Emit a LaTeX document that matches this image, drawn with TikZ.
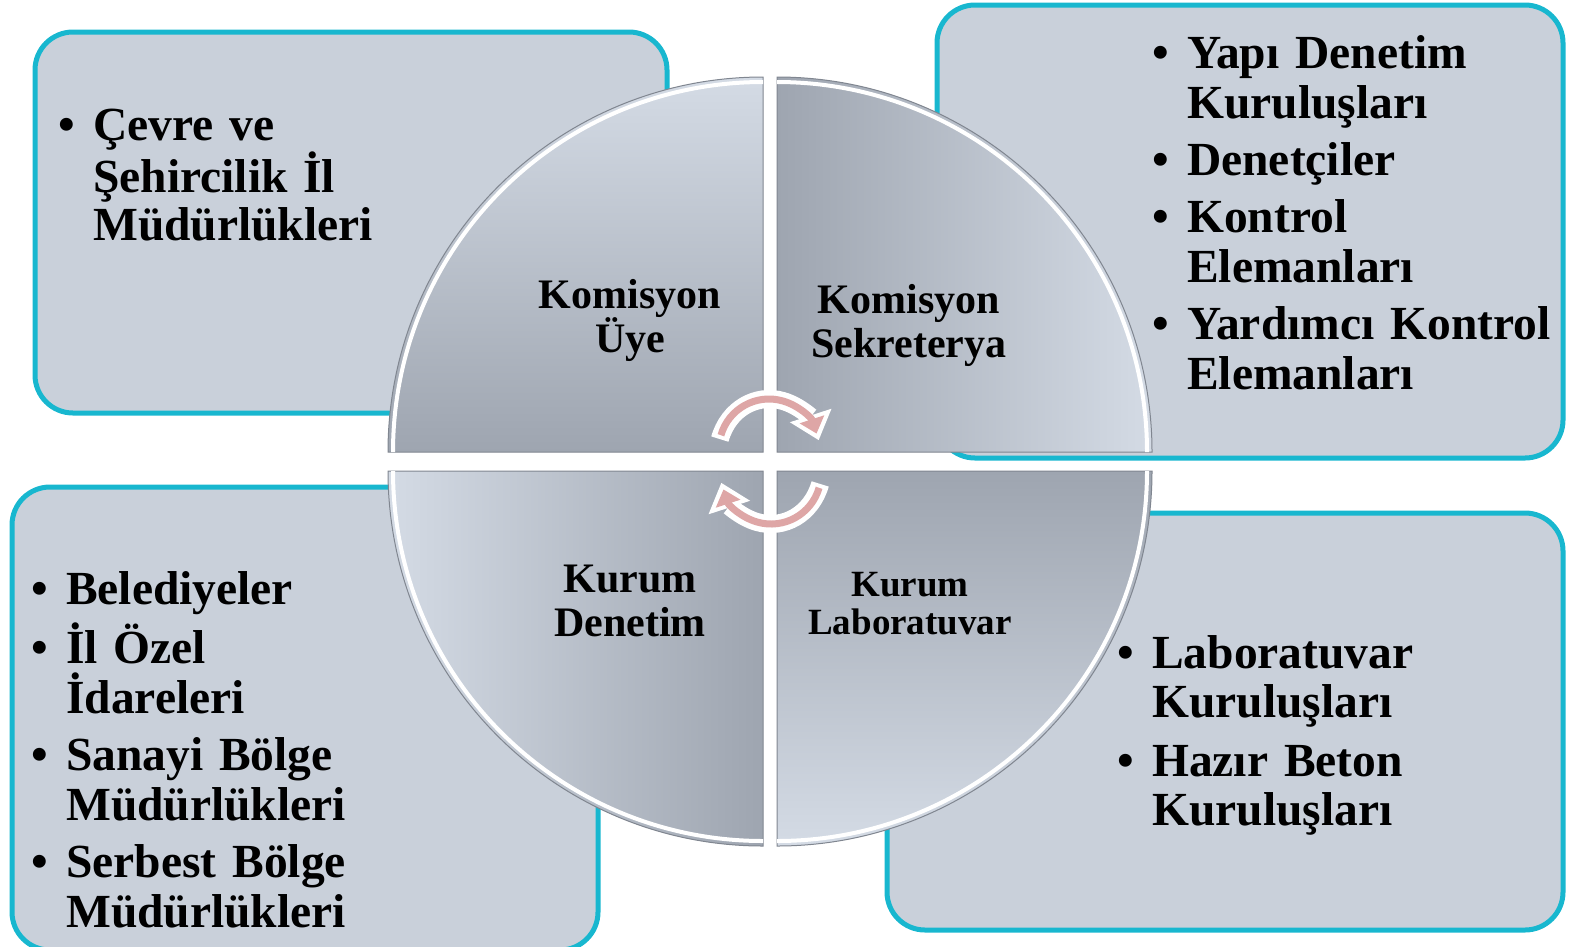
\documentclass[tikz,border=0pt]{standalone}
\usepackage{fontspec}
\setmainfont{Liberation Serif}
\usetikzlibrary{arrows.meta}
\setlength{\parindent}{0pt}
\setlength{\lineskiplimit}{-60pt}

\definecolor{boxcyan}{RGB}{24,183,207}
\definecolor{boxfill}{RGB}{201,208,218}
\definecolor{quadlight}{RGB}{212,219,229}
\definecolor{quaddark}{RGB}{158,165,176}
\definecolor{quadline}{RGB}{128,134,144}
\definecolor{turnpink}{RGB}{222,166,166}

\newcommand{\bul}{\makebox[35pt][l]{\textbullet}}
\newcommand{\ind}{\hspace*{35pt}}

\tikzset{
	listbox/.style={draw=boxcyan, line width=5, fill=boxfill, rounded corners=38},
	listtext/.style={inner sep=0, anchor=north west, align=left, text width=480,
		font=\bfseries\fontsize{47.5}{50}\selectfont},
	quadlabel/.style={inner sep=0, align=center, font=\bfseries\fontsize{42}{44}\selectfont},
	quadface/.style={draw=quadline, line width=1},
	quadshine/.style={draw=white, line width=4},
	turnhalo/.style={draw=white, line width=18, shorten <=-4, shorten >=-7, -{Triangle[length=26pt,width=42pt]}},
	turnline/.style={draw=turnpink, line width=7, -{Triangle[length=15pt,width=25pt]}}}

\begin{document}
\begin{tikzpicture}[x=1pt,y=1pt,yscale=-1,xscale=1]
	\useasboundingbox (0,0) rectangle (1570,946);

	%Rounded Rect: upper left
	\draw[listbox] (35,32) rectangle (667,413);
	%Rounded Rect: upper right
	\draw[listbox] (937,5) rectangle (1563,458);
	%Rounded Rect: lower left
	\draw[listbox] (12,487) rectangle (598,950);
	%Rounded Rect: lower right
	\draw[listbox] (887,513) rectangle (1563,930);

	% Quarter discs
	\path[quadface, top color=quadlight, bottom color=quaddark] (763,452) -- (388,452) arc[start angle=180, end angle=270, radius=375] -- cycle;
	\path[quadface, left color=quaddark, right color=quadlight] (777,452) -- (777,77) arc[start angle=270, end angle=360, radius=375] -- cycle;
	\path[quadface, left color=quadlight, right color=quaddark] (763,471) -- (388,471) arc[start angle=180, end angle=90, radius=375] -- cycle;
	\path[quadface, top color=quaddark, bottom color=quadlight] (777,471) -- (1152,471) arc[start angle=0, end angle=90, radius=375] -- cycle;
	% shine on the arcs
	\draw[quadshine] (393,452) arc[start angle=180, end angle=270, radius=370];
	\draw[quadshine] (777,82) arc[start angle=270, end angle=360, radius=370];
	\draw[quadshine] (393,471) arc[start angle=180, end angle=90, radius=370];
	\draw[quadshine] (1147,471) arc[start angle=0, end angle=90, radius=370];

	% Turning arrows
	\draw[turnhalo] (769,449) ++(196:50) arc[start angle=196, end angle=342, radius=50];
	\draw[turnline] (769,449) ++(196:50) arc[start angle=196, end angle=342, radius=50];
	\draw[turnhalo] (771,474) ++(16:50) arc[start angle=16, end angle=162, radius=50];
	\draw[turnline] (771,474) ++(16:50) arc[start angle=16, end angle=162, radius=50];

	% Text Node
	\node[quadlabel] (uye) at (630,320) {Komisyon\\Üye};
	% Text Node
	\node[quadlabel] (sekreterya) at (909,325) {Komisyon\\Sekreterya};
	% Text Node
	\node[quadlabel] (denetim) at (630,601) {Kurum\\Denetim};
	% Text Node
	\node[quadlabel, font=\bfseries\fontsize{37}{38}\selectfont] (laboratuvar) at (910,604) {Kurum\\Laboratuvar};

	% Text Node
	\node[listtext, font=\bfseries\fontsize{47.5}{48.5}\selectfont] (illist) at (58,109) {\bul Çevre ve\\\ind Şehircilik İl\\\ind Müdürlükleri};
	% Text Node
	\node[listtext] (kurulist) at (1152,35) {\bul Yapı Denetim\\\ind Kuruluşları\\[7pt]\bul Denetçiler\\[7pt]\bul Kontrol\\\ind Elemanları\\[7pt]\bul Yardımcı Kontrol\\\ind Elemanları};
	% Text Node
	\node[listtext] (idarelist) at (31,571) {\bul Belediyeler\\[7pt]\bul İl Özel\\\ind İdareleri\\[7pt]\bul Sanayi Bölge\\\ind Müdürlükleri\\[7pt]\bul Serbest Bölge\\\ind Müdürlükleri};
	% Text Node
	\node[listtext, font=\bfseries\fontsize{47.5}{49}\selectfont] (labolist) at (1117,635) {\bul Laboratuvar\\\ind Kuruluşları\\[10pt]\bul Hazır Beton\\\ind Kuruluşları};

\end{tikzpicture}
\end{document}
